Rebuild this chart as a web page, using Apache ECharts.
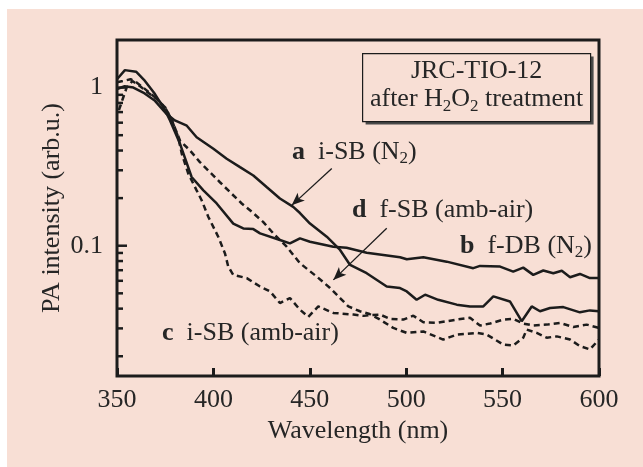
<!DOCTYPE html>
<html>
<head>
<meta charset="utf-8">
<script src="https://cdn.jsdelivr.net/npm/echarts@6/dist/echarts.min.js"></script>
<style>
html,body{margin:0;padding:0;background:#ffffff;}
#bg{position:absolute;left:7px;top:9px;width:636px;height:458px;background:#f8dfd5;}
#chart{position:absolute;left:0;top:0;width:643px;height:467px;}
</style>
</head>
<body>
<div id="bg"></div>
<div id="chart"></div>
<script>
// ---- data ----
const xTicks = [350, 400, 450, 500, 550, 600];
const yMajorTicks = [0.1, 1];
const yMinorTicks = [0.02,0.03,0.04,0.05,0.06,0.07,0.08,0.09,0.2,0.3,0.4,0.5,0.6,0.7,0.8,0.9];

// a: i-SB (N2), solid
const seriesA = [[350,0.98],[354,1.02],[358.5,1.0],[363.6,0.93],[369.7,0.825],[375.8,0.68],[380,0.62],[386.2,0.574],[391.3,0.485],[400,0.41],[406.9,0.355],[413.8,0.314],[420.7,0.278],[427.6,0.235],[434.5,0.199],[441.4,0.176],[444.9,0.161],[450.1,0.138],[458.8,0.114],[465.7,0.094],[470.9,0.0756],[479.5,0.067],[489.9,0.0552],[496.8,0.054],[500.3,0.0514],[505.4,0.0455],[509.8,0.049],[516.6,0.0455],[526.2,0.0424],[533.1,0.0413],[540,0.0413],[545.2,0.0478],[553.8,0.0444],[559.9,0.0333],[565.1,0.0413],[569.4,0.0385],[574.6,0.0404],[581.5,0.0409],[590.1,0.0379],[595.3,0.039],[600,0.0385]];
// b: f-DB (N2), solid
const seriesB = [[350,1.13],[354.1,1.29],[359.9,1.26],[364,1.12],[369.7,0.91],[374.9,0.72],[377.5,0.62],[382.7,0.441],[388.7,0.272],[394.8,0.224],[401.7,0.185],[410.3,0.138],[415.5,0.1286],[420.7,0.1274],[424.2,0.1197],[434.5,0.1086],[439.7,0.1035],[444.9,0.1113],[450.1,0.106],[462.2,0.0986],[469.1,0.0972],[479.5,0.0903],[496.8,0.0846],[500.3,0.0821],[508.9,0.0846],[521,0.0793],[534.8,0.0721],[538.3,0.0745],[548.7,0.0738],[555.5,0.0686],[560.7,0.0727],[565.9,0.0654],[571.1,0.0697],[576.3,0.067],[580.7,0.0694],[585,0.0632],[590.1,0.0663],[595.3,0.0624],[600,0.0624]];
// c: i-SB (amb-air), dashed
const seriesC = [[351,0.72],[353,0.85],[355,1.0],[358,1.1],[362,1.02],[366,0.93],[370,0.86],[375,0.75],[378.5,0.62],[381.8,0.485],[383.6,0.381],[387,0.285],[391.3,0.224],[393.9,0.194],[397.4,0.152],[402.5,0.114],[406,0.0894],[407.7,0.0738],[410.3,0.0654],[417.3,0.0624],[424.2,0.0552],[429.4,0.0514],[434.5,0.0434],[439.7,0.0467],[444.9,0.0394],[449.2,0.0355],[454.4,0.0413],[462.2,0.0376],[472.6,0.0367],[478,0.036],[482,0.0365],[486.4,0.0367],[491.6,0.0345],[498.5,0.0341],[503.7,0.0361],[508.9,0.0328],[515.8,0.0325],[526.2,0.0341],[533.1,0.035],[538.3,0.0313],[543.5,0.0322],[550.4,0.0341],[555.5,0.0345],[560.7,0.0322],[565.9,0.0313],[572.9,0.0317],[579.8,0.0325],[586.7,0.0306],[593.6,0.0317],[600,0.0302]];
// d: f-SB (amb-air), dashed
const seriesD = [[350,1.08],[353,1.1],[357,1.13],[360,1.08],[363.6,1.0],[369.7,0.87],[374.9,0.75],[378,0.64],[382.7,0.462],[387.9,0.40],[393,0.338],[398.2,0.292],[403.4,0.252],[409.5,0.213],[414.7,0.185],[419.9,0.164],[425.9,0.141],[431.1,0.1197],[438,0.0986],[444.9,0.0775],[453.6,0.0638],[460.5,0.054],[465.7,0.0467],[470,0.0413],[476,0.0385],[481,0.037],[486.4,0.0341],[493.3,0.0302],[500.3,0.0281],[508.9,0.0287],[519.2,0.0255],[526.2,0.0274],[536.6,0.0281],[541.8,0.0274],[550.4,0.0237],[555.5,0.0234],[560.7,0.0262],[562.5,0.0295],[567.7,0.0281],[572.9,0.0262],[578.1,0.0267],[585,0.0255],[590.1,0.0232],[595.3,0.0221],[600,0.0255]];

// arrows (data coordinates: start -> head)
const arrowA = [[461.4,0.308],[440.6,0.180]];
const arrowD = [[489.9,0.129],[462.2,0.0608]];

// ---- chart ----
const FONT = '"Liberation Serif","Times New Roman",serif';
const INK = '#1c1c1c';
const TXT = '#262626';
const X_MIN = 350, X_MAX = 600, Y_MIN = 0.015, Y_MAX = 2;

const chart = echarts.init(document.getElementById('chart'), null, {renderer:'canvas'});

const rich = {
  b: {fontWeight:'bold', fontSize:26, fontFamily:FONT, fill:TXT, color:TXT},
  s: {fontSize:17, fontFamily:FONT, padding:[14,0,0,0], fill:TXT, color:TXT},
  n: {fontSize:26, fontFamily:FONT, fill:TXT, color:TXT}
};
function txt(x, y, t, align) {
  return {type:'text', x:x, y:y, z:50, silent:true,
    style:{text:t, rich:rich, fontSize:26, fontFamily:FONT, fill:TXT, align:align||'left', verticalAlign:'middle'}};
}

function lineSeries(name, data, dashed, arrow) {
  const s = {
    name:name, type:'line', data:data, showSymbol:false, symbol:'none',
    lineStyle:{color:INK, width:2.5, type: dashed ? [6,4] : 'solid'},
    z:3, animation:false
  };
  if (arrow) {
    s.markLine = {
      silent:true, animation:false, symbol:['none','arrow'], symbolSize:[8,13],
      lineStyle:{type:'solid', width:1.3, color:INK},
      label:{show:false},
      data:[[{coord:arrow[0]},{coord:arrow[1]}]]
    };
  }
  return s;
}

const option = {
  backgroundColor:'transparent',
  animation:false,
  grid:{left:117, top:40, width:482, height:336, show:true, borderColor:INK, borderWidth:3, backgroundColor:'transparent'},
  xAxis:{
    type:'value', min:X_MIN, max:X_MAX, interval:50,
    axisLine:{show:false},
    axisTick:{show:true, inside:true, length:8, lineStyle:{color:INK, width:3}},
    splitLine:{show:false},
    axisLabel:{fontSize:26, fontFamily:FONT, color:TXT, margin:11,
      formatter: v => xTicks.includes(v) ? String(v) : ''},
    name:'Wavelength (nm)', nameLocation:'middle', nameGap:42, nameMoveOverlap:false,
    nameTextStyle:{fontSize:26, fontFamily:FONT, color:TXT}
  },
  yAxis:{
    type:'log', logBase:10, min:Y_MIN, max:Y_MAX,
    axisLine:{show:false},
    axisTick:{show:false},
    minorTick:{show:false},
    splitLine:{show:false},
    axisLabel:{fontSize:26, fontFamily:FONT, color:TXT, margin:14,
      formatter: v => {
        for (const t of yMajorTicks) { if (Math.abs(v - t) < t*1e-6) return String(t); }
        return '';
      }},
    name:'PA intensity (arb.u.)', nameLocation:'middle', nameGap:52, nameRotate:90, nameMoveOverlap:false,
    nameTextStyle:{fontSize:26, fontFamily:FONT, color:TXT}
  },
  series:[
    lineSeries('a i-SB (N2)', seriesA, false, arrowA),
    lineSeries('b f-DB (N2)', seriesB, false, null),
    lineSeries('c i-SB (amb-air)', seriesC, true, null),
    lineSeries('d f-SB (amb-air)', seriesD, true, arrowD)
  ]
};
chart.setOption(option);

// y-axis ticks: thin filled rects placed through the chart's own log scale
function tickRect(v, len) {
  const p = chart.convertToPixel({gridIndex:0}, [X_MIN, v]);
  return {type:'rect', z:45, silent:true,
    shape:{x:p[0], y:p[1]-1.25, width:len, height:2.5},
    style:{fill:INK}};
}
const tickEls = yMinorTicks.map(v => tickRect(v, 6)).concat(yMajorTicks.map(v => tickRect(v, 10)));

chart.setOption({
  graphic: tickEls.concat([
    {type:'group', left:362, top:53, z:40, silent:true, children:[
      {type:'rect', x:3, y:3, shape:{width:228, height:68}, style:{fill:'#4a4a4a'}},
      {type:'rect', x:0, y:0, shape:{width:228, height:68}, style:{fill:'#f8dfd5', stroke:INK, lineWidth:1.2}},
      {type:'text', x:114, y:18, style:{text:'JRC-TIO-12', fontSize:26, fontFamily:FONT, fill:TXT, align:'center', verticalAlign:'middle'}},
      {type:'text', x:114, y:46, style:{text:'{n|after H}{s|2}{n|O}{s|2}{n| treatment}', rich:rich, fontSize:26, fontFamily:FONT, fill:TXT, align:'center', verticalAlign:'middle'}}
    ]},
    txt(292, 152, '{b|a}  i-SB (N{s|2})'),
    txt(352, 210, '{b|d}  f-SB (amb-air)'),
    txt(460, 246, '{b|b}  f-DB (N{s|2})'),
    txt(162, 333, '{b|c}  i-SB (amb-air)')
  ])
});
</script>
</body>
</html>
